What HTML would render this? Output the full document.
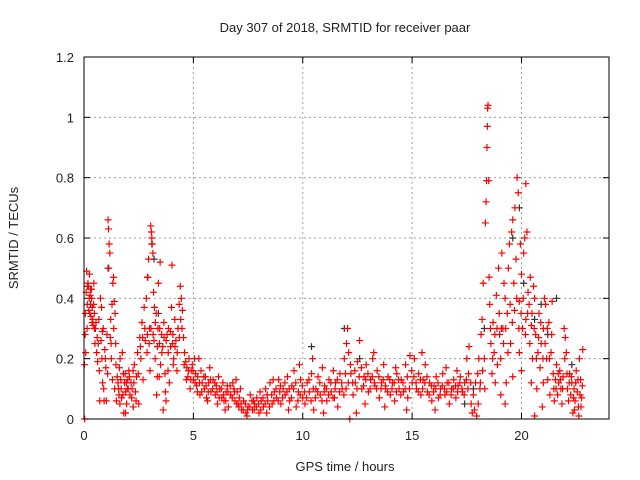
<!DOCTYPE html>
<html><head><meta charset="utf-8"><style>
body{margin:0;background:#fff}
svg{display:block;font-family:"Liberation Sans",sans-serif}
</style></head><body>
<svg id="chart" width="640" height="480">
<rect width="640" height="480" fill="#fff"/>
<g id="grid"></g>
<g id="ticks"></g>
<g id="pts"></g>
<rect x="84" y="57" width="525" height="362" fill="none" stroke="#000" stroke-width="1"/>
<text x="345" y="32" text-anchor="middle" font-size="13" fill="#222">Day 307 of 2018, SRMTID for receiver paar</text>
<text x="345" y="471" text-anchor="middle" font-size="13" fill="#222">GPS time / hours</text>
<text x="18" y="238" text-anchor="middle" font-size="13" fill="#222" transform="rotate(-90 18 238)">SRMTID / TECUs</text>
</svg>
<script>
const xTicks=[0,5,10,15,20];
const yTicks=[0,0.2,0.4,0.6,0.8,1,1.2];
const yTickLabels=["0","0.2","0.4","0.6","0.8","1","1.2"];
const greyHours=[0.3,1.1,2.9,3.1,3.2,3.4,10.4,11.9,12.6,17.4,17.8,18.3,19.6,19.9,20.1,20.6,20.9,21.2,21.6,22.3];
const greyValues=[0.38,0.5,0.47,0.58,0.53,0.35,0.24,0.3,0.2,0.05,0.1,0.3,0.6,0.7,0.45,0.33,0.38,0.28,0.4,0.18];
const redPoints=[
[0.02,0.18],[0.05,0.28],[0.08,0.22],[0.1,0.42],[0.12,0.49],[0.15,0.38],[0.18,0.45],[0.2,0.44],[0.22,0.36],[0.25,0.48],[0.28,0.41],[0.3,0.43],[0.32,0.34],[0.35,0.4],[0.38,0.37],[0.4,0.33],[0.42,0.31],[0.45,0.45],[0.48,0.3],[0.5,0.25],[0.03,0.0],
[0.55,0.32],[0.6,0.27],[0.62,0.19],[0.65,0.25],[0.7,0.16],[0.72,0.06],[0.75,0.4],[0.8,0.37],[0.82,0.2],[0.85,0.12],[0.88,0.3],[0.9,0.1],[0.95,0.23],[1.0,0.17],[1.05,0.28],[1.1,0.66],[1.12,0.63],[1.15,0.58],[1.13,0.5],[1.18,0.55],[1.2,0.27],[1.22,0.33],[1.25,0.2],[1.3,0.13],[1.32,0.45],[1.35,0.47],[1.38,0.39],[1.4,0.1],[1.42,0.35],[1.45,0.25],[1.48,0.06],[0.92,0.06],[1.02,0.06],[1.28,0.38],
[1.52,0.14],[1.55,0.12],[1.6,0.08],[1.62,0.17],[1.65,0.2],[1.7,0.1],[1.72,0.07],[1.75,0.22],[1.8,0.15],[1.82,0.02],[1.85,0.12],[1.9,0.09],[1.95,0.05],[2.0,0.13],[2.05,0.16],[2.1,0.08],[2.15,0.12],[2.2,0.1],[2.25,0.04],[2.3,0.18],[2.35,0.09],[2.4,0.14],[2.45,0.22],[2.5,0.05],[1.9,0.02],[2.02,0.1],
[2.55,0.27],[2.6,0.2],[2.65,0.32],[2.7,0.13],[2.75,0.37],[2.8,0.26],[2.85,0.4],[2.9,0.28],[2.92,0.47],[2.95,0.53],[3.0,0.3],[3.02,0.16],[3.05,0.64],[3.08,0.62],[3.1,0.6],[3.12,0.58],[3.15,0.55],[3.18,0.42],[3.2,0.26],[3.22,0.37],[3.25,0.2],[3.3,0.35],[3.32,0.08],[3.35,0.14],[3.38,0.3],[3.4,0.45],[3.45,0.25],[3.48,0.52],[3.5,0.18],
[3.55,0.28],[3.6,0.24],[3.65,0.32],[3.7,0.15],[3.75,0.06],[3.8,0.28],[3.85,0.22],[3.9,0.12],[3.95,0.29],[4.0,0.37],[4.02,0.51],[4.05,0.25],[4.1,0.2],[4.15,0.33],[4.2,0.26],[4.25,0.16],[4.3,0.3],[4.35,0.38],[4.4,0.44],[4.45,0.4],[4.5,0.36],[4.55,0.27],[4.6,0.22],[3.72,0.09],[4.08,0.18],[4.42,0.33],[3.62,0.03],
[4.65,0.19],[4.7,0.17],[4.75,0.14],[4.8,0.2],[4.85,0.1],[4.9,0.16],[4.95,0.18],[5.0,0.13],[5.05,0.2],[5.1,0.15],[5.15,0.11],[5.2,0.14],[5.3,0.08],[5.35,0.16],[5.4,0.12],[5.5,0.1],[5.55,0.14],[5.6,0.07],[5.7,0.12],[5.75,0.17],[5.8,0.09],[5.9,0.13],[6.0,0.08],[6.05,0.11],[6.1,0.05],[6.2,0.1],[6.3,0.07],[6.35,0.12],[6.4,0.06],[6.5,0.09],[6.55,0.11],[6.6,0.04],[6.7,0.08],[6.8,0.12],[6.85,0.1],[6.9,0.06],[7.0,0.09],[5.25,0.2],[5.65,0.06],[6.15,0.14],[6.45,0.03],[6.95,0.13],
[7.05,0.05],[7.1,0.07],[7.2,0.03],[7.3,0.06],[7.4,0.02],[7.5,0.04],[7.6,0.08],[7.7,0.03],[7.8,0.05],[7.9,0.07],[8.0,0.02],[8.1,0.06],[8.2,0.04],[8.3,0.1],[8.4,0.06],[8.5,0.12],[8.6,0.05],[8.7,0.09],[8.8,0.07],[8.9,0.13],[9.0,0.05],[7.15,0.1],[7.45,0.01],[7.75,0.06],[8.05,0.09],[8.35,0.02],[8.65,0.13],[8.95,0.09],
[9.1,0.1],[9.2,0.08],[9.3,0.14],[9.4,0.06],[9.5,0.11],[9.6,0.16],[9.7,0.04],[9.8,0.09],[9.9,0.13],[10.0,0.07],[10.1,0.05],[10.2,0.12],[10.3,0.09],[10.4,0.15],[10.5,0.03],[10.6,0.1],[10.7,0.14],[10.8,0.08],[10.9,0.17],[11.0,0.11],[11.1,0.06],[11.2,0.13],[11.3,0.09],[11.4,0.16],[11.5,0.12],[11.6,0.04],[11.7,0.15],[11.8,0.1],[11.9,0.2],[12.0,0.25],[12.05,0.3],[12.1,0.22],[9.35,0.03],[9.85,0.18],[10.45,0.2],[10.95,0.02],[11.45,0.07],[11.95,0.15],
[12.2,0.15],[12.3,0.08],[12.4,0.12],[12.5,0.19],[12.6,0.26],[12.7,0.1],[12.8,0.14],[12.9,0.18],[13.0,0.09],[13.1,0.13],[13.2,0.2],[13.3,0.11],[13.4,0.16],[13.5,0.07],[13.6,0.12],[13.7,0.18],[13.8,0.1],[13.9,0.14],[14.0,0.08],[14.1,0.12],[14.2,0.06],[14.3,0.15],[14.4,0.1],[14.5,0.13],[14.6,0.09],[14.7,0.18],[14.8,0.07],[14.9,0.21],[15.0,0.12],[12.45,0.02],[12.85,0.05],[13.25,0.22],[13.75,0.04],[14.25,0.17],[14.75,0.03],[12.15,0.0],
[15.1,0.2],[15.2,0.1],[15.3,0.15],[15.4,0.08],[15.5,0.13],[15.6,0.18],[15.7,0.09],[15.8,0.12],[15.9,0.06],[16.0,0.11],[16.1,0.14],[16.2,0.07],[16.3,0.1],[16.4,0.15],[16.5,0.08],[16.6,0.12],[16.7,0.05],[16.8,0.1],[16.9,0.13],[17.0,0.07],[17.1,0.11],[17.2,0.14],[17.3,0.09],[17.4,0.12],[17.5,0.2],[17.6,0.24],[17.7,0.05],[15.45,0.22],[16.05,0.03],[16.55,0.17],[17.05,0.16],[17.55,0.1],
[17.75,0.02],[17.8,0.08],[17.85,0.03],[17.9,0.12],[17.95,0.01],[18.0,0.15],[18.05,0.2],[18.1,0.1],[18.15,0.28],[18.2,0.33],[18.25,0.45],[18.3,0.2],[18.35,0.65],[18.38,0.72],[18.4,0.79],[18.42,0.9],[18.44,0.97],[18.45,1.03],[18.47,1.04],[18.5,0.79],[18.52,0.47],[18.55,0.38],[18.6,0.25],[18.65,0.15],[18.7,0.32],[18.75,0.22],[18.8,0.12],[18.85,0.41],[18.9,0.18],
[18.95,0.5],[19.0,0.28],[19.05,0.2],[19.1,0.55],[19.15,0.3],[19.2,0.45],[19.25,0.4],[19.3,0.12],[19.35,0.35],[19.4,0.5],[19.45,0.58],[19.5,0.25],[19.55,0.62],[19.6,0.66],[19.65,0.45],[19.7,0.7],[19.75,0.53],[19.8,0.8],[19.85,0.75],[19.9,0.39],[19.95,0.58],[20.0,0.48],[20.05,0.3],[20.1,0.55],[20.15,0.6],[20.2,0.78],[20.25,0.62],[20.3,0.42],[20.35,0.38],[20.4,0.47],[20.45,0.31],[20.5,0.2],[19.05,0.08],[19.25,0.05],[19.6,0.14],[19.9,0.22],[20.0,0.16],[20.2,0.33],[20.45,0.12],
[20.55,0.44],[20.6,0.4],[20.65,0.28],[20.7,0.1],[20.75,0.22],[20.8,0.35],[20.85,0.17],[20.9,0.25],[20.95,0.04],[21.0,0.3],[21.05,0.4],[21.1,0.38],[21.15,0.2],[21.2,0.13],[21.25,0.32],[21.3,0.08],[21.35,0.22],[21.4,0.39],[21.45,0.15],[21.5,0.06],[20.6,0.01],[21.0,0.12],
[21.55,0.13],[21.6,0.18],[21.65,0.08],[21.7,0.12],[21.75,0.16],[21.8,0.1],[21.85,0.05],[21.9,0.14],[21.95,0.3],[22.0,0.27],[22.05,0.22],[22.1,0.1],[22.15,0.06],[22.2,0.15],[22.25,0.08],[22.3,0.12],[22.35,0.02],[22.4,0.1],[22.45,0.06],[22.5,0.16],[22.55,0.09],[22.6,0.04],[22.65,0.2],[22.7,0.13],[22.75,0.07],[22.8,0.23],[22.62,0.01],[22.42,0.03]
];
const extraRedPoints=[
[0.06,0.35],[0.14,0.3],[0.16,0.44],[0.24,0.4],[0.27,0.35],[0.34,0.43],[0.37,0.32],[0.44,0.38],[0.47,0.35],[0.52,0.3],[0.58,0.22],[0.68,0.33],[0.78,0.26],[0.84,0.29],[0.98,0.2],[1.08,0.15],[1.24,0.25],[1.36,0.3],[1.46,0.18],
[1.58,0.1],[1.68,0.13],[1.78,0.08],[1.88,0.15],[1.98,0.1],[2.08,0.14],[2.18,0.07],[2.28,0.12],[2.38,0.06],[2.48,0.15],[1.64,0.05],[1.94,0.12],[2.24,0.16],
[2.58,0.24],[2.68,0.27],[2.78,0.3],[2.88,0.22],[2.98,0.25],[3.06,0.3],[3.16,0.28],[3.26,0.32],[3.36,0.24],[3.46,0.3],[3.56,0.22],[3.66,0.27],[3.76,0.26],[3.86,0.3],[3.96,0.24],[4.06,0.28],[4.16,0.24],[4.26,0.22],[4.36,0.27],[4.48,0.3],[4.58,0.18],[3.44,0.14],[3.84,0.16],
[4.68,0.13],[4.78,0.16],[4.88,0.13],[4.98,0.16],[5.08,0.12],[5.18,0.09],[5.28,0.12],[5.38,0.09],[5.48,0.14],[5.58,0.11],[5.68,0.09],[5.78,0.13],[5.88,0.1],[5.98,0.12],[6.08,0.09],[6.18,0.07],[6.28,0.1],[6.38,0.08],[6.48,0.06],[6.58,0.09],[6.68,0.11],[6.78,0.07],[6.88,0.09],[6.98,0.05],
[7.08,0.04],[7.18,0.05],[7.28,0.03],[7.38,0.05],[7.48,0.03],[7.58,0.04],[7.68,0.06],[7.78,0.03],[7.88,0.04],[7.98,0.05],[8.08,0.03],[8.18,0.07],[8.28,0.05],[8.38,0.08],[8.48,0.04],[8.58,0.08],[8.68,0.06],[8.78,0.1],[8.88,0.06],[8.98,0.11],
[9.08,0.07],[9.18,0.12],[9.28,0.09],[9.38,0.1],[9.48,0.07],[9.58,0.1],[9.68,0.12],[9.78,0.06],[9.88,0.08],[9.98,0.11],[10.08,0.09],[10.18,0.07],[10.28,0.13],[10.38,0.06],[10.48,0.1],[10.58,0.07],[10.68,0.09],[10.78,0.12],[10.88,0.06],[10.98,0.09],[11.08,0.1],[11.18,0.08],[11.28,0.12],[11.38,0.07],[11.48,0.1],[11.58,0.13],[11.68,0.09],[11.78,0.12],[11.88,0.08],[11.98,0.1],
[12.08,0.12],[12.18,0.18],[12.28,0.12],[12.38,0.16],[12.48,0.1],[12.58,0.14],[12.68,0.17],[12.78,0.11],[12.88,0.13],[12.98,0.15],[13.08,0.1],[13.18,0.14],[13.28,0.12],[13.38,0.1],[13.48,0.14],[13.58,0.1],[13.68,0.13],[13.78,0.11],[13.88,0.09],[13.98,0.13],[14.08,0.1],[14.18,0.12],[14.28,0.09],[14.38,0.13],[14.48,0.08],[14.58,0.12],[14.68,0.1],[14.78,0.14],[14.88,0.1],[14.98,0.16],
[15.08,0.14],[15.18,0.12],[15.28,0.09],[15.38,0.13],[15.48,0.1],[15.58,0.12],[15.68,0.14],[15.78,0.08],[15.88,0.11],[15.98,0.09],[16.08,0.1],[16.18,0.12],[16.28,0.08],[16.38,0.11],[16.48,0.1],[16.58,0.09],[16.68,0.12],[16.78,0.08],[16.88,0.1],[16.98,0.11],[17.08,0.09],[17.18,0.12],[17.28,0.1],[17.38,0.08],[17.48,0.13],[17.58,0.15],[17.68,0.12],
[18.02,0.05],[18.12,0.12],[18.22,0.16],[18.32,0.1],[18.58,0.3],[18.68,0.2],[18.78,0.28],[18.88,0.3],[18.98,0.35],[19.08,0.3],[19.18,0.25],[19.28,0.3],[19.38,0.22],[19.48,0.38],[19.58,0.32],[19.68,0.36],[19.78,0.4],[19.88,0.3],[19.98,0.35],[20.08,0.4],[20.18,0.28],[20.28,0.35],[20.38,0.25],[20.48,0.35],
[20.58,0.3],[20.68,0.2],[20.78,0.27],[20.88,0.32],[20.98,0.2],[21.08,0.25],[21.18,0.3],[21.28,0.2],[21.38,0.28],[21.48,0.1],[21.58,0.1],[21.68,0.15],[21.78,0.13],[21.88,0.1],[21.98,0.2],[22.08,0.15],[22.18,0.12],[22.28,0.14],[22.38,0.07],[22.48,0.12],[22.58,0.13],[22.68,0.08],[22.78,0.11],[22.72,0.04]
];
const X0=84,X1=609,Y0=419,Y1=57,XMAX=24,YMAX=1.2;
function sx(v){return X0+(X1-X0)*v/XMAX;}
function sy(v){return Y0-(Y0-Y1)*v/YMAX;}
const NS="http://www.w3.org/2000/svg";
function mk(tag,attrs,parent){const e=document.createElementNS(NS,tag);for(const k in attrs)e.setAttribute(k,attrs[k]);parent.appendChild(e);return e;}
const grid=document.getElementById('grid'),ticks=document.getElementById('ticks'),pts=document.getElementById('pts');
xTicks.forEach(function(t){
  const x=sx(t);
  if(t>0){const g=mk('line',{x1:x,x2:x,y1:Y1,y2:Y0,stroke:'#a0a0a0','stroke-dasharray':'2,3'},grid);
  
  }
  mk('line',{x1:x,x2:x,y1:Y0,y2:Y0-6,stroke:'#000'},ticks);
  mk('line',{x1:x,x2:x,y1:Y1,y2:Y1+6,stroke:'#000'},ticks);
  const l=mk('text',{x:x,y:Y0+21,'text-anchor':'middle','font-size':13,fill:'#222'},ticks);
  l.textContent=String(t);
  
  
});
yTicks.forEach(function(t,i){
  const y=sy(t);
  if(t>0&&t<YMAX){const g=mk('line',{x1:X0,x2:X1,y1:y,y2:y,stroke:'#a0a0a0','stroke-dasharray':'2,3'},grid);
  
  }
  mk('line',{x1:X0,x2:X0+6,y1:y,y2:y,stroke:'#000'},ticks);
  mk('line',{x1:X1,x2:X1-6,y1:y,y2:y,stroke:'#000'},ticks);
  const l=mk('text',{x:X0-10,y:y+5,'text-anchor':'end','font-size':13,fill:'#222'},ticks);
  l.textContent=yTickLabels[i];
  
  
});
function plus(x,y,color){
  return mk('path',{d:'M'+(x-3.5)+' '+y+'h7M'+x+' '+(y-3.5)+'v7',stroke:color,'stroke-width':1.2,fill:'none'},pts);
}
greyHours.forEach(function(h,i){
  const p=plus(sx(h),sy(greyValues[i]),'#333');
  
  
});
redPoints.concat(extraRedPoints).forEach(function(d){
  const p=plus(sx(d[0]),sy(d[1]),'#ff0000');
  
  
});
</script>
</body></html>
